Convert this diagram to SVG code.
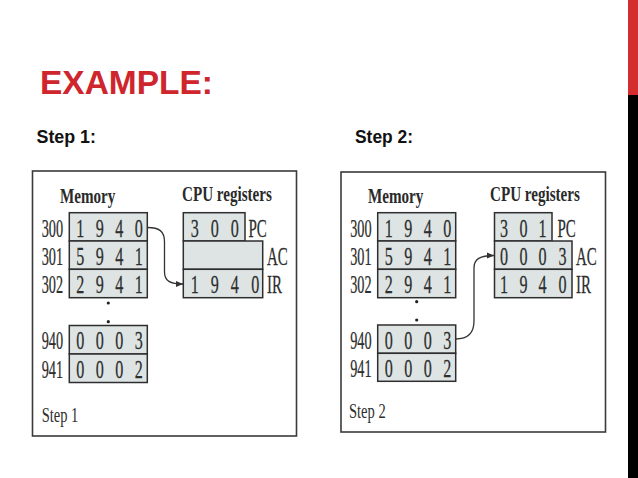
<svg xmlns="http://www.w3.org/2000/svg" width="638" height="478" viewBox="0 0 638 478">
<defs>
<style>
.title{font-family:"Liberation Sans",Arial,sans-serif;font-weight:bold;font-size:34px;fill:#cf252c}
.step{font-family:"Liberation Sans",Arial,sans-serif;font-weight:bold;font-size:17.5px;fill:#111}
.frame{fill:#fff;stroke:#3a3a3a;stroke-width:1.6}
.cell{fill:#dde4e3;stroke:#2e2e2e;stroke-width:1.5}
.d{font-family:"Liberation Serif","Times New Roman",serif;font-size:26px;fill:#2e2e2e;stroke:#2e2e2e;stroke-width:0.25;text-anchor:middle}
.lab{font-family:"Liberation Serif","Times New Roman",serif;font-size:25px;fill:#2e2e2e;stroke:#2e2e2e;stroke-width:0.25}
.labr{font-family:"Liberation Serif","Times New Roman",serif;font-size:25px;fill:#2e2e2e;stroke:#2e2e2e;stroke-width:0.25;text-anchor:end}
.hd{font-family:"Liberation Serif","Times New Roman",serif;font-weight:bold;font-size:21px;fill:#2a2a2a}
.cap{font-family:"Liberation Serif","Times New Roman",serif;font-size:22px;fill:#2e2e2e}
.dot{fill:#222}
.conn{fill:none;stroke:#333;stroke-width:1.3}
</style>
<marker id="ah" markerUnits="userSpaceOnUse" markerWidth="8" markerHeight="8" refX="7" refY="4" orient="auto">
<path d="M0,1 L7,4 L0,7 Z" fill="#333"/>
</marker>
</defs>
<rect x="0" y="0" width="638" height="478" fill="#fff"/>
<rect x="628" y="0" width="10" height="95" fill="#d42d2f"/>
<rect x="628" y="95" width="10" height="383" fill="#000"/>
<text class="title" x="40" y="94.3" textLength="173" lengthAdjust="spacingAndGlyphs">EXAMPLE:</text>
<text class="step" x="36.5" y="143.3" textLength="59.5" lengthAdjust="spacingAndGlyphs">Step 1:</text>
<text class="step" x="355" y="142.5" textLength="58" lengthAdjust="spacingAndGlyphs">Step 2:</text>

<g id="step1">
<rect class="frame" x="32.5" y="171" width="264" height="265"/>
<text class="hd" transform="translate(60,203) scale(0.72,1)">Memory</text>
<text class="hd" transform="translate(182,201) scale(0.72,1)">CPU registers</text>
<text class="cap" transform="translate(41.7,421.7) scale(0.66,1)">Step 1</text>
</g>
<g id="s1-mem300">
<rect class="cell" x="69.3" y="212.7" width="78" height="28.3"/>
<text class="labr" transform="translate(63,236.5) scale(0.57,1)">300</text>
<text class="d" transform="translate(69.3,236.5) scale(0.62,1)" x="17.7 49.2 80.6 112.1">1940</text>
</g>
<g id="s1-mem301">
<rect class="cell" x="69.3" y="241" width="78" height="28.3"/>
<text class="labr" transform="translate(63,264.8) scale(0.57,1)">301</text>
<text class="d" transform="translate(69.3,264.8) scale(0.62,1)" x="17.7 49.2 80.6 112.1">5941</text>
</g>
<g id="s1-mem302">
<rect class="cell" x="69.3" y="269.3" width="78" height="28.4"/>
<text class="labr" transform="translate(63,293.1) scale(0.57,1)">302</text>
<text class="d" transform="translate(69.3,293.1) scale(0.62,1)" x="17.7 49.2 80.6 112.1">2941</text>
</g>
<g id="s1-dots">
<circle class="dot" cx="108.3" cy="303" r="1.6"/>
<circle class="dot" cx="108.3" cy="321.7" r="1.6"/>
</g>
<g id="s1-mem940">
<rect class="cell" x="69.3" y="325.5" width="78" height="28.5"/>
<text class="labr" transform="translate(63,349.3) scale(0.57,1)">940</text>
<text class="d" transform="translate(69.3,349.3) scale(0.62,1)" x="17.7 49.2 80.6 112.1">0003</text>
</g>
<g id="s1-mem941">
<rect class="cell" x="69.3" y="354" width="78" height="28.5"/>
<text class="labr" transform="translate(63,377.8) scale(0.57,1)">941</text>
<text class="d" transform="translate(69.3,377.8) scale(0.62,1)" x="17.7 49.2 80.6 112.1">0002</text>
</g>
<g id="s1-pc">
<rect class="cell" x="183.3" y="212.7" width="61.7" height="28.3"/>
<text class="d" transform="translate(183.3,236.5) scale(0.62,1)" x="18.5 50.8 83.1">300</text>
<text class="lab" transform="translate(248.5,236.5) scale(0.6,1)">PC</text>
</g>
<g id="s1-ac">
<rect class="cell" x="183.3" y="241" width="79.4" height="28.3"/>
<text class="lab" transform="translate(267,264.8) scale(0.6,1)">AC</text>
</g>
<g id="s1-ir">
<rect class="cell" x="183.3" y="269.3" width="79.4" height="28.4"/>
<text class="d" transform="translate(183.3,293.1) scale(0.62,1)" x="18.5 50.8 83.1 116.1">1940</text>
<text class="lab" transform="translate(267,293.1) scale(0.6,1)">IR</text>
</g>

<g id="step2">
<rect class="frame" x="341" y="172" width="264.5" height="260"/>
<text class="hd" transform="translate(368,203) scale(0.72,1)">Memory</text>
<text class="hd" transform="translate(490,201) scale(0.72,1)">CPU registers</text>
<text class="cap" transform="translate(349,418.3) scale(0.66,1)">Step 2</text>
</g>
<g id="s2-mem300">
<rect class="cell" x="377.7" y="212.7" width="78" height="28.3"/>
<text class="labr" transform="translate(371.5,236.5) scale(0.57,1)">300</text>
<text class="d" transform="translate(377.7,236.5) scale(0.62,1)" x="17.7 49.2 80.6 112.1">1940</text>
</g>
<g id="s2-mem301">
<rect class="cell" x="377.7" y="241" width="78" height="28.3"/>
<text class="labr" transform="translate(371.5,264.8) scale(0.57,1)">301</text>
<text class="d" transform="translate(377.7,264.8) scale(0.62,1)" x="17.7 49.2 80.6 112.1">5941</text>
</g>
<g id="s2-mem302">
<rect class="cell" x="377.7" y="269.3" width="78" height="28.4"/>
<text class="labr" transform="translate(371.5,293.1) scale(0.57,1)">302</text>
<text class="d" transform="translate(377.7,293.1) scale(0.62,1)" x="17.7 49.2 80.6 112.1">2941</text>
</g>
<g id="s2-dots">
<circle class="dot" cx="416.7" cy="301.7" r="1.6"/>
<circle class="dot" cx="416.7" cy="320" r="1.6"/>
</g>
<g id="s2-mem940">
<rect class="cell" x="377.7" y="325" width="78" height="28.3"/>
<text class="labr" transform="translate(371.5,348.8) scale(0.57,1)">940</text>
<text class="d" transform="translate(377.7,348.8) scale(0.62,1)" x="17.7 49.2 80.6 112.1">0003</text>
</g>
<g id="s2-mem941">
<rect class="cell" x="377.7" y="353.3" width="78" height="28"/>
<text class="labr" transform="translate(371.5,376.8) scale(0.57,1)">941</text>
<text class="d" transform="translate(377.7,376.8) scale(0.62,1)" x="17.7 49.2 80.6 112.1">0002</text>
</g>
<g id="s2-pc">
<rect class="cell" x="494.5" y="212.7" width="57.5" height="28.3"/>
<text class="d" transform="translate(494.5,236.5) scale(0.62,1)" x="15.5 46.8 77.4">301</text>
<text class="lab" transform="translate(557.5,236.5) scale(0.6,1)">PC</text>
</g>
<g id="s2-ac">
<rect class="cell" x="494.5" y="241" width="77.5" height="28.3"/>
<text class="d" transform="translate(494.5,264.8) scale(0.62,1)" x="15.5 46.8 77.4 109.7">0003</text>
<text class="lab" transform="translate(576,264.8) scale(0.6,1)">AC</text>
</g>
<g id="s2-ir">
<rect class="cell" x="494.5" y="269.3" width="77.5" height="28.4"/>
<text class="d" transform="translate(494.5,293.1) scale(0.62,1)" x="15.5 46.8 77.4 109.7">1940</text>
<text class="lab" transform="translate(576,293.1) scale(0.6,1)">IR</text>
</g>

<g id="connectors">
<path class="conn" marker-end="url(#ah)" d="M147.5,227.5 C159,227.5 164.5,231 164.5,242 L164.5,272 C164.5,281 170,284 183,284"/>
<path class="conn" marker-end="url(#ah)" d="M455.7,339 C468,339 474,333 474,321 L474,268 C474,259 480,255.5 494,255.5"/>
</g>
</svg>
